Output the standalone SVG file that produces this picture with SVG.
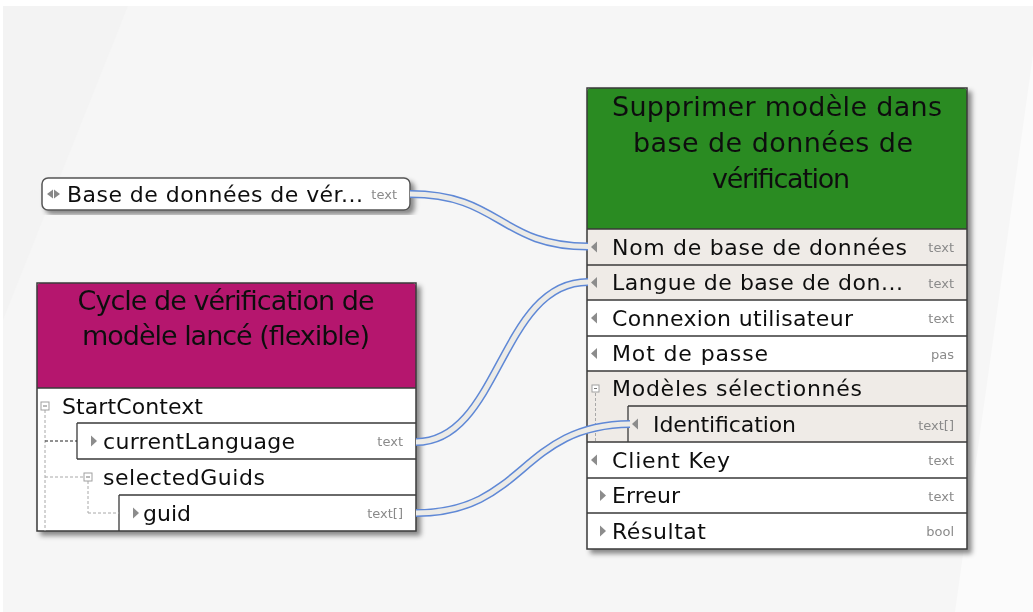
<svg xmlns="http://www.w3.org/2000/svg" width="1033" height="612" viewBox="0 0 1033 612">
<defs>
<filter id="sh" x="-5%" y="-5%" width="115%" height="120%">
<feDropShadow dx="4" dy="4" stdDeviation="2.5" flood-color="#000" flood-opacity="0.45"/>
</filter>
<style>
.t{font-family:"DejaVu Sans","Liberation Sans",sans-serif;fill:#111;}
.h{font-size:27px;text-anchor:middle;}
.r{font-size:22px;}
.ty{font-family:"DejaVu Sans","Liberation Sans",sans-serif;font-size:13px;fill:#8a8a8a;text-anchor:end;}
.sep{stroke:#3a3a3a;stroke-width:1.3;fill:none;}
.box{stroke:#3a3a3a;stroke-width:1.5;}
.tri{fill:#8c8c8c;}
.exp{fill:#fff;stroke:#a0a0a0;stroke-width:1;}
.dg{stroke:#a8a8a8;stroke-width:1;stroke-dasharray:3 2;fill:none;}
.db{stroke:#222;stroke-width:1;stroke-dasharray:3 2;fill:none;}
.co{stroke:#5f88d6;stroke-width:8;fill:none;}
.ci{stroke:#ecebe7;stroke-width:5;fill:none;}
</style>
</defs>
<rect width="1033" height="612" fill="#ffffff"/>
<rect x="3" y="6" width="1030" height="606" fill="#f6f6f6"/>
<polygon points="3,6 128,6 3,320" fill="#f3f3f3"/>
<polygon points="1033,55 1033,612 955,612" fill="#fbfbfb"/>

<g id="node-base-donnees" filter="url(#sh)">
<rect x="42" y="178" width="368" height="32" rx="6" fill="#ffffff" stroke="#555" stroke-width="1.5"/>
<polygon points="47,194 53,189.5 53,198.5" fill="#888"/>
<polygon points="54,189.5 60,194 54,198.5" fill="#888"/>
<text class="t r" x="67" y="202" textLength="296" lengthAdjust="spacing">Base de données de vér...</text>
<text class="ty" x="397" y="199" font-size="12">text</text>
</g>

<g id="node-cycle" filter="url(#sh)">
<rect x="37" y="283" width="379" height="248" fill="#ffffff"/>
<path d="M37,388 V287 Q37,283 41,283 H412 Q416,283 416,287 V388 Z" fill="#b5176e"/>
<text class="t h" x="226" y="310" textLength="297" lengthAdjust="spacing">Cycle de vérification de</text>
<text class="t h" x="226" y="345" textLength="288" lengthAdjust="spacing">modèle lancé (flexible)</text>
<line class="sep" x1="37" y1="388" x2="416" y2="388"/>
<line class="sep" x1="77" y1="423" x2="416" y2="423"/>
<line class="sep" x1="77" y1="423" x2="77" y2="459"/>
<line class="sep" x1="77" y1="459" x2="416" y2="459"/>
<line class="sep" x1="119" y1="495" x2="416" y2="495"/>
<line class="sep" x1="119" y1="495" x2="119" y2="531"/>
<rect x="37" y="283" width="379" height="248" fill="none" class="box"/>
<line class="dg" x1="45" y1="410" x2="45" y2="531"/>
<line class="db" x1="45" y1="441" x2="77" y2="441"/>
<line class="dg" x1="45" y1="477" x2="84" y2="477"/>
<line class="dg" x1="88" y1="481" x2="88" y2="513"/>
<line class="dg" x1="88" y1="513" x2="119" y2="513"/>
<rect class="exp" x="41" y="402" width="8" height="8"/>
<line x1="43" y1="406" x2="47" y2="406" stroke="#777"/>
<rect class="exp" x="84" y="473" width="8" height="8"/>
<line x1="86" y1="477" x2="90" y2="477" stroke="#777"/>
<text class="t r" x="62" y="414" textLength="141" lengthAdjust="spacing">StartContext</text>
<polygon class="tri" points="91,435.5 97,441 91,446.5"/>
<text class="t r" x="103" y="449" textLength="192" lengthAdjust="spacing">currentLanguage</text>
<text class="ty" x="403" y="446">text</text>
<text class="t r" x="103" y="485" textLength="162" lengthAdjust="spacing">selectedGuids</text>
<polygon class="tri" points="133,507.5 139,513 133,518.5"/>
<text class="t r" x="143" y="521" textLength="48" lengthAdjust="spacing">guid</text>
<text class="ty" x="403" y="518">text[]</text>
</g>

<g id="node-supprimer" filter="url(#sh)">
<rect x="587" y="88" width="380" height="461" fill="#ffffff"/>
<path d="M587,229 V92 Q587,88 591,88 H963 Q967,88 967,92 V229 Z" fill="#2a8b23"/>
<rect x="587" y="229" width="380" height="71" fill="#efebe7"/>
<rect x="587" y="371" width="380" height="71" fill="#efebe7"/>
<text class="t h" x="777" y="116" textLength="330" lengthAdjust="spacing">Supprimer modèle dans</text>
<text class="t h" x="773" y="152" textLength="280" lengthAdjust="spacing">base de données de</text>
<text class="t h" x="781" y="188" textLength="138" lengthAdjust="spacing">vérification</text>
<line class="sep" x1="587" y1="229" x2="967" y2="229"/>
<line class="sep" x1="587" y1="265" x2="967" y2="265"/>
<line class="sep" x1="587" y1="300" x2="967" y2="300"/>
<line class="sep" x1="587" y1="336" x2="967" y2="336"/>
<line class="sep" x1="587" y1="371" x2="967" y2="371"/>
<line class="sep" x1="628" y1="406" x2="967" y2="406"/>
<line class="sep" x1="628" y1="406" x2="628" y2="442"/>
<line class="sep" x1="587" y1="442" x2="967" y2="442"/>
<line class="sep" x1="587" y1="478" x2="967" y2="478"/>
<line class="sep" x1="587" y1="513" x2="967" y2="513"/>
<rect x="587" y="88" width="380" height="461" fill="none" class="box"/>
<polygon class="tri" points="591,247 597,241.5 597,252.5"/>
<text class="t r" x="612" y="255" textLength="295" lengthAdjust="spacing">Nom de base de données</text>
<text class="ty" x="954" y="252">text</text>
<polygon class="tri" points="591,282.5 597,277 597,288"/>
<text class="t r" x="612" y="290" textLength="291" lengthAdjust="spacing">Langue de base de don...</text>
<text class="ty" x="954" y="288">text</text>
<polygon class="tri" points="591,318 597,312.5 597,323.5"/>
<text class="t r" x="612" y="326" textLength="241" lengthAdjust="spacing">Connexion utilisateur</text>
<text class="ty" x="954" y="323">text</text>
<polygon class="tri" points="591,353.5 597,348 597,359"/>
<text class="t r" x="612" y="361" textLength="156" lengthAdjust="spacing">Mot de passe</text>
<text class="ty" x="954" y="359">pas</text>
<rect class="exp" x="592" y="385" width="7" height="7"/>
<line x1="594" y1="388.5" x2="597" y2="388.5" stroke="#777"/>
<line class="dg" x1="595.5" y1="393" x2="595.5" y2="441"/>
<text class="t r" x="612" y="396" textLength="250" lengthAdjust="spacing">Modèles sélectionnés</text>
<polygon class="tri" points="632,424 638,418.5 638,429.5"/>
<text class="t r" x="653" y="432" textLength="143" lengthAdjust="spacing">Identification</text>
<text class="ty" x="954" y="430">text[]</text>
<polygon class="tri" points="591,460 597,454.5 597,465.5"/>
<text class="t r" x="612" y="468" textLength="118" lengthAdjust="spacing">Client Key</text>
<text class="ty" x="954" y="465">text</text>
<polygon class="tri" points="600,490 606,495.5 600,501"/>
<text class="t r" x="612" y="503" textLength="68" lengthAdjust="spacing">Erreur</text>
<text class="ty" x="954" y="501">text</text>
<polygon class="tri" points="600,525.5 606,531 600,536.5"/>
<text class="t r" x="612" y="539" textLength="94" lengthAdjust="spacing">Résultat</text>
<text class="ty" x="954" y="536">bool</text>
</g>

<g id="connectors">
<path class="co" d="M410,194 C500,194 500,246.5 588,246.5"/>
<path class="ci" d="M410,194 C500,194 500,246.5 588,246.5"/>
<path class="co" d="M416,442 C500,442 500,282 588,282"/>
<path class="ci" d="M416,442 C500,442 500,282 588,282"/>
<path class="co" d="M416,513 C525,513 520,425 630,424"/>
<path class="ci" d="M416,513 C525,513 520,425 630,424"/>
</g>
</svg>
